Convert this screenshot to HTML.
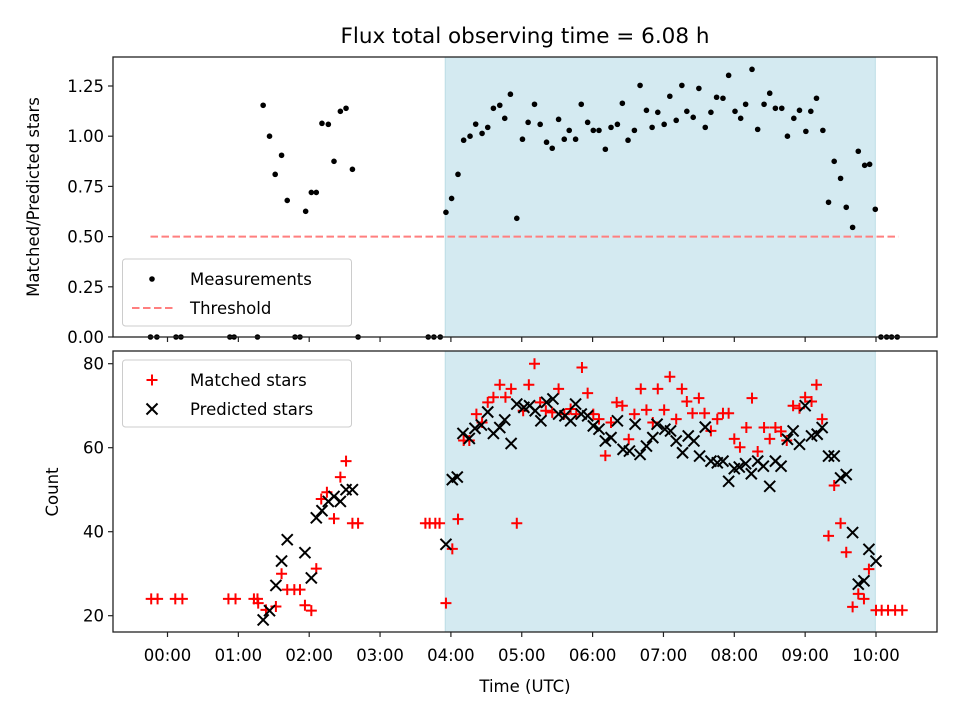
<!DOCTYPE html>
<html><head><meta charset="utf-8"><style>
html,body{margin:0;padding:0;background:#fff}
svg{display:block;font-family:"DejaVu Sans","Liberation Sans",sans-serif}
</style></head><body>
<svg id="chart" width="960" height="720" viewBox="0 0 960 720" xmlns="http://www.w3.org/2000/svg"></svg>
<script>
const ratioTimes=[1.35,1.44,1.52,1.61,1.69,1.95,2.03,2.10,2.18,2.27,2.35,2.44,2.52,2.61,
3.93,4.01,4.10,4.18,4.27,4.35,4.44,4.52,4.60,4.69,4.76,4.84,4.93,5.01,5.09,5.18,5.26,5.35,5.43,5.52,5.60,5.67,5.76,5.84,5.93,6.01,6.09,6.18,6.26,6.35,6.42,6.50,6.59,6.67,6.76,6.84,6.92,7.01,7.09,7.18,7.26,7.33,7.42,7.50,7.59,7.67,7.75,7.84,7.92,8.01,8.09,8.16,8.25,8.33,8.42,8.50,8.58,8.67,8.75,8.84,8.92,9.01,9.08,9.16,9.25,9.33,9.41,9.50,9.58,9.67,9.75,9.84,9.91,9.99,
-0.24,-0.15,0.12,0.19,0.88,0.94,1.27,1.80,1.87,2.69,3.68,3.76,3.85,10.07,10.15,10.22,10.30];
const ratioValues=[1.154,1.0,0.81,0.905,0.68,0.626,0.72,0.72,1.064,1.059,0.875,1.124,1.139,0.835,
0.621,0.69,0.81,0.98,1.0,1.06,1.014,1.044,1.139,1.154,1.089,1.209,0.591,0.985,1.069,1.159,1.059,0.97,0.94,1.084,0.985,1.029,0.985,1.159,1.069,1.029,1.029,0.935,1.044,1.059,1.164,0.98,1.029,1.253,1.129,1.044,1.119,1.059,1.199,1.079,1.253,1.124,1.094,1.238,1.044,1.119,1.194,1.189,1.303,1.124,1.089,1.159,1.333,1.034,1.159,1.214,1.139,1.139,1.0,1.089,1.129,1.024,1.124,1.189,1.029,0.671,0.875,0.79,0.646,0.546,0.925,0.855,0.86,0.636,
0,0,0,0,0,0,0,0,0,0,0,0,0,0,0,0,0];
const matchedTimes=[-0.23,-0.14,0.11,0.21,0.86,0.96,1.22,1.27,1.28,1.39,1.53,1.61,1.69,1.79,1.87,1.94,2.03,2.10,2.17,2.25,2.35,2.44,2.52,2.61,2.69,
3.64,3.70,3.78,3.84,3.93,4.02,4.10,4.18,4.26,4.36,4.44,4.52,4.60,4.69,4.77,4.85,4.93,5.02,5.10,5.18,5.26,5.34,5.43,5.52,5.60,5.69,5.77,5.85,5.93,6.01,6.09,6.18,6.26,6.34,6.42,6.51,6.59,6.68,6.76,6.85,6.92,7.01,7.09,7.18,7.26,7.33,7.41,7.50,7.58,7.67,7.76,7.84,7.92,8.00,8.08,8.17,8.25,8.33,8.42,8.50,8.58,8.66,8.74,8.83,8.92,9.00,9.09,9.16,9.24,9.33,9.41,9.50,9.58,9.67,9.75,9.83,9.90,10.00,10.08,10.17,10.27,10.37];
const matchedCounts=[24,24,24,24,24,24,24,24,23,21.4,22.2,30,26.2,26.2,26.2,22.5,21.2,31.2,47.8,49.4,43.1,53,56.8,42,42,
42,42,42,42,23,35.9,43,61.7,61.7,68,66,70.8,72,75,72,74,42,68.8,75,80,70.8,68.8,68.4,74,68,69.2,68,79.1,73,68,66.8,58.1,66,70.8,70,62,68,74,69,66,74,69,76.9,66.8,74,71,68.2,71.8,68.2,64,66.8,68.2,68.2,62.1,60.1,64.8,71.8,59.1,64.8,62.1,64.8,63.9,61.7,70,69.4,72,71,75,66.8,39,51,42,35.1,22.1,25.2,24,31.1,21.3,21.3,21.3,21.3,21.3];
const predictedTimes=[1.35,1.44,1.53,1.61,1.69,1.94,2.03,2.10,2.18,2.27,2.35,2.44,2.52,2.61,
3.93,4.02,4.09,4.17,4.26,4.34,4.43,4.52,4.60,4.69,4.76,4.85,4.93,5.03,5.11,5.19,5.27,5.35,5.44,5.52,5.61,5.69,5.76,5.84,5.93,6.01,6.09,6.18,6.26,6.35,6.43,6.52,6.60,6.67,6.76,6.85,6.91,7.02,7.10,7.18,7.27,7.35,7.43,7.51,7.59,7.67,7.76,7.84,7.92,8.00,8.07,8.16,8.24,8.33,8.41,8.50,8.58,8.66,8.75,8.83,8.92,9.00,9.09,9.17,9.24,9.33,9.41,9.50,9.58,9.67,9.75,9.83,9.90,10.00];
const predictedCounts=[19,21.2,27.2,33,38.1,35,29,43.3,45,47.2,48.4,47.2,50,50,
37,52.4,53,63.4,62.2,64.6,65.4,68.5,63.4,64.8,66.6,61,70.4,69.6,70,68.8,66.4,70.8,71.6,68,67.6,66.4,70.4,68,67.6,65.2,64.4,61.6,62.4,66.4,59.6,59.2,65.6,58.4,60.4,62.4,65.6,64.4,64,61.6,58.8,62.8,61.6,58,64.9,56.8,56.4,56.8,52,55,55.4,56.2,53.8,56.8,55.6,50.8,56.8,55.6,62,64,60.8,70,62.8,63.2,64.8,58,58,52.8,53.6,39.8,27.5,28.3,35.8,33];
const xTickHours=[0,1,2,3,4,5,6,7,8,9,10];
const xTickLabels=["00:00","01:00","02:00","03:00","04:00","05:00","06:00","07:00","08:00","09:00","10:00"];
const topTicks=[0,0.25,0.5,0.75,1.0,1.25];
const topTickLabels=["0.00","0.25","0.50","0.75","1.00","1.25"];
const botTicks=[20,40,60,80];
const shadeStart=3.92, shadeEnd=9.99, threshold=0.5, thrStart=-0.24, thrEnd=10.32;

const NS="http://www.w3.org/2000/svg";
const svg=document.getElementById('chart');
function mk(tag,attrs,parent){const e=document.createElementNS(NS,tag);for(const k in attrs)e.setAttribute(k,attrs[k]);(parent||svg).appendChild(e);return e;}
const L=113,R=937,T1=57,B1=337,T2=351,B2=632;
const xS=h=>167.5+h*70.85;
const yTop=v=>337-v*200.8;
const yBot=v=>615.7-(v-20)*4.2;

// title
let t=mk('text',{x:525,y:43,'text-anchor':'middle','font-size':21.5,fill:'#000'});
t.textContent='Flux total observing time = 6.08 h';



function panel(top,bot,name){
  const g=mk('g',{});
  
  
  const sh=mk('rect',{x:xS(shadeStart),y:top,width:xS(shadeEnd)-xS(shadeStart),height:bot-top,fill:'#d4eaf1',stroke:'#bcdde6','stroke-width':1},g);
  
  
  return g;
}
const g1=panel(T1,B1,'ratio-panel');
const g2=panel(T2,B2,'count-panel');

// threshold
const thr=mk('line',{x1:xS(thrStart),x2:xS(thrEnd),y1:yTop(threshold),y2:yTop(threshold),stroke:'#ff7f7f','stroke-width':2,'stroke-dasharray':'7.5,3.5'},g1);



// measurements
ratioTimes.forEach((h,i)=>{
  const c=mk('circle',{cx:xS(h),cy:yTop(ratioValues[i]),r:2.8,fill:'#000'},g1);
  
  
});

// matched +
matchedTimes.forEach((h,i)=>{
  const x=xS(h),y=yBot(matchedCounts[i]),s=5.5;
  const p=mk('path',{d:`M${x-s},${y}H${x+s}M${x},${y-s}V${y+s}`,stroke:'#ff0000','stroke-width':2,fill:'none'},g2);
  
  
});
// predicted x
predictedTimes.forEach((h,i)=>{
  const x=xS(h),y=yBot(predictedCounts[i]),s=5.5;
  const p=mk('path',{d:`M${x-s},${y-s}L${x+s},${y+s}M${x-s},${y+s}L${x+s},${y-s}`,stroke:'#000','stroke-width':2,fill:'none'},g2);
  
  
});

// frames
[[T1,B1,'ratio-axes-frame'],[T2,B2,'count-axes-frame']].forEach(([a,b,n])=>{
  const r=mk('rect',{x:L,y:a,width:R-L,height:b-a,fill:'none',stroke:'#222','stroke-width':1.3});
  
  
});

// x ticks
xTickHours.forEach((h,i)=>{
  const x=xS(h);
  const a=mk('line',{x1:x,x2:x,y1:B1,y2:B1+5,stroke:'#222','stroke-width':1.2});
  
  
  const b=mk('line',{x1:x,x2:x,y1:B2,y2:B2+5,stroke:'#222','stroke-width':1.2});
  
  
  const tx=mk('text',{x:x,y:B2+29,'text-anchor':'middle','font-size':16.5,fill:'#000'});
  tx.textContent=xTickLabels[i];
  
  
});
topTicks.forEach((v,i)=>{
  const y=yTop(v);
  const a=mk('line',{x1:L-5,x2:L,y1:y,y2:y,stroke:'#222','stroke-width':1.2});
  
  
  const tx=mk('text',{x:L-9,y:y+6,'text-anchor':'end','font-size':16.5,fill:'#000'});
  tx.textContent=topTickLabels[i];
  
  
});
botTicks.forEach(v=>{
  const y=yBot(v);
  const a=mk('line',{x1:L-5,x2:L,y1:y,y2:y,stroke:'#222','stroke-width':1.2});
  
  
  const tx=mk('text',{x:L-9,y:y+6,'text-anchor':'end','font-size':16.5,fill:'#000'});
  tx.textContent=String(v);
  
  
});

// axis labels
let xl=mk('text',{x:525,y:692,'text-anchor':'middle','font-size':16.5,fill:'#000'});
xl.textContent='Time (UTC)';


let yl1=mk('text',{x:0,y:0,'text-anchor':'middle','font-size':16.5,fill:'#000',transform:'translate(39,197) rotate(-90)'});
yl1.textContent='Matched/Predicted stars';


let yl2=mk('text',{x:0,y:0,'text-anchor':'middle','font-size':16.5,fill:'#000',transform:'translate(58,492) rotate(-90)'});
yl2.textContent='Count';



// legends
function legend(y,name){
  const g=mk('g',{});
  
  
  mk('rect',{x:122.5,y:y,width:229,height:67,rx:3,fill:'#fff','fill-opacity':0.8,stroke:'#ccc','stroke-width':1},g);
  return g;
}
const lg1=legend(259,'ratio-legend');
let d=mk('circle',{cx:152,cy:279,r:2.8,fill:'#000'},lg1);


let lt=mk('text',{x:190,y:285,'font-size':16.5,fill:'#000'},lg1);
lt.textContent='Measurements';


let dl=mk('line',{x1:132,x2:173,y1:308,y2:308,stroke:'#ff7f7f','stroke-width':2,'stroke-dasharray':'7.5,3.5'},lg1);


lt=mk('text',{x:190,y:314,'font-size':16.5,fill:'#000'},lg1);
lt.textContent='Threshold';



const lg2=legend(360,'count-legend');
let m=mk('path',{d:'M146.5,380H157.5M152,374.5V385.5',stroke:'#ff0000','stroke-width':2},lg2);


lt=mk('text',{x:190,y:386,'font-size':16.5,fill:'#000'},lg2);
lt.textContent='Matched stars';


m=mk('path',{d:'M146.5,403.5L157.5,414.5M146.5,414.5L157.5,403.5',stroke:'#000','stroke-width':2},lg2);


lt=mk('text',{x:190,y:415,'font-size':16.5,fill:'#000'},lg2);
lt.textContent='Predicted stars';


</script>
</body></html>
